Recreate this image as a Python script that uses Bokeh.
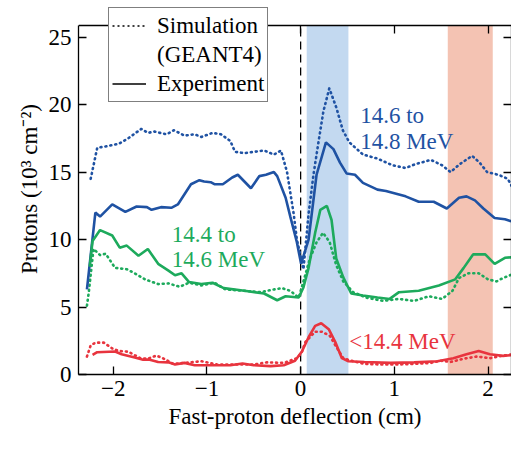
from bokeh.plotting import figure
from bokeh.models import (Legend, LegendItem, LinearAxis, SingleIntervalTicker,
                          BoxAnnotation, Label)
from bokeh.embed import file_html
from bokeh.resources import INLINE

# ---------------- data ----------------
blue_sim_x = [-2.24, -2.17, -2.08, -1.94, -1.84, -1.70, -1.63, -1.56, -1.43, -1.35,
              -1.24, -1.13, -1.06, -0.94, -0.85, -0.75, -0.70, -0.60, -0.39, -0.285,
              -0.21, -0.145, -0.074, -0.04, 0.03, 0.085, 0.137, 0.19, 0.243, 0.306,
              0.38, 0.45, 0.52, 0.665, 0.82, 0.98, 1.12, 1.23, 1.39, 1.51,
              1.60, 1.70, 1.83, 1.91, 1.99, 2.11, 2.21, 2.28, 2.34, 2.37]
blue_sim_y = [14.5, 16.8, 16.9, 17.1, 17.5, 18.2, 17.9, 18.0, 17.8, 18.1,
              17.7, 17.8, 17.6, 17.9, 17.8, 17.3, 16.5, 16.4, 16.6, 16.3,
              16.6, 15.0, 11.9, 10.0, 7.8, 11.9, 14.8, 17.2, 19.5, 21.2,
              19.8, 18.1, 17.2, 16.3, 16.0, 15.5, 15.3, 15.6, 15.9, 15.5,
              15.0, 15.6, 16.2, 15.7, 15.0, 14.8, 14.5, 13.6, 12.2, 11.8]

blue_exp_x = [-2.28, -2.19, -2.14, -2.01, -1.87, -1.75, -1.64, -1.59, -1.49, -1.38,
              -1.31, -1.17, -1.08, -1.03, -0.96, -0.92, -0.83, -0.73, -0.67, -0.53,
              -0.44, -0.37, -0.285, -0.25, -0.16, -0.11, -0.04, 0.005, 0.085, 0.17,
              0.27, 0.35, 0.42, 0.49, 0.58, 0.665, 0.82, 0.91, 1.12, 1.26,
              1.42, 1.56, 1.69, 1.77, 1.86, 1.95, 2.07, 2.18, 2.27, 2.30,
              2.32, 2.37]
blue_exp_y = [6.3, 12.0, 11.7, 12.6, 12.05, 12.45, 12.4, 12.2, 12.4, 12.35,
              12.6, 14.1, 14.4, 14.3, 14.25, 14.1, 14.1, 14.6, 14.8, 13.8,
              14.7, 14.8, 15.0, 14.7, 13.1, 11.7, 9.8, 8.2, 10.0, 14.8,
              17.2, 16.7, 15.7, 14.9, 14.8, 14.2, 13.7, 13.6, 13.2, 12.8,
              12.8, 12.3, 13.1, 13.2, 12.9, 12.3, 11.6, 11.5, 11.3, 10.5,
              7.6, 4.3]

green_exp_x = [-2.25, -2.22, -2.14, -2.01, -1.93, -1.855, -1.73, -1.63, -1.52, -1.41,
               -1.34, -1.27, -1.19, -1.06, -0.94, -0.82, -0.60, -0.39, -0.25, -0.16,
               -0.02, 0.03, 0.085, 0.155, 0.21, 0.28, 0.33, 0.38, 0.455, 0.54,
               0.665, 0.82, 0.95, 1.05, 1.26, 1.475, 1.65, 1.74, 1.84, 1.97,
               2.07, 2.18, 2.28, 2.32, 2.37]
green_exp_y = [8.0, 9.9, 10.7, 10.3, 9.4, 9.55, 8.8, 9.3, 8.2, 7.7,
               7.35, 7.5, 6.85, 6.7, 6.8, 6.4, 6.2, 6.0, 5.5, 5.8,
               5.7, 6.45, 7.9, 10.5, 12.2, 12.5, 11.45, 8.6, 7.2, 6.0,
               5.85, 5.7, 5.6, 6.1, 6.2, 6.6, 7.05, 7.9, 8.9, 8.9,
               8.2, 8.65, 8.7, 8.4, 7.5]

green_sim_x = [-2.28, -2.26, -2.21, -2.14, -2.08, -1.98, -1.855, -1.77, -1.66, -1.52,
               -1.41, -1.29, -1.19, -1.06, -0.92, -0.80, -0.60, -0.43, -0.285, -0.20,
               -0.11, -0.02, 0.03, 0.10, 0.17, 0.24, 0.31, 0.38, 0.455, 0.56,
               0.70, 0.88, 1.05, 1.21, 1.37, 1.51, 1.62, 1.69, 1.79, 1.90,
               2.00, 2.09, 2.16, 2.27, 2.30, 2.34, 2.37]
green_sim_y = [5.1, 6.1, 9.3, 8.85, 8.95, 7.9, 7.8, 7.5, 7.05, 6.7,
               6.75, 6.5, 6.8, 6.6, 6.8, 6.3, 6.2, 6.1, 6.3, 6.4,
               6.2, 5.7, 6.9, 8.6, 9.8, 10.5, 9.8, 8.1, 6.9, 6.1,
               5.7, 5.45, 5.6, 5.45, 5.8, 5.6, 6.2, 7.15, 7.5, 7.5,
               7.05, 6.9, 7.15, 7.45, 6.7, 4.3, 2.9]

red_exp_x = [-2.22, -2.17, -1.98, -1.91, -1.77, -1.68, -1.61, -1.52, -1.41, -1.34,
             -1.24, -1.13, -0.96, -0.75, -0.62, -0.50, -0.32, -0.18, -0.06, 0.014,
             0.085, 0.155, 0.22, 0.30, 0.37, 0.44, 0.51, 0.68, 0.96, 1.21,
             1.46, 1.63, 1.77, 1.90, 2.02, 2.16, 2.27, 2.37]
red_exp_y = [1.45, 1.65, 1.7, 1.5, 1.26, 1.1, 1.1, 0.93, 0.9, 0.74,
             0.86, 0.69, 0.69, 0.69, 0.81, 0.69, 0.62, 0.69, 1.02, 1.7,
             2.76, 3.6, 3.8, 3.36, 2.4, 1.21, 0.98, 0.93, 0.86, 0.9,
             0.98, 1.21, 1.5, 1.74, 1.5, 1.38, 1.45, 1.1]

red_sim_x = [-2.28, -2.24, -2.19, -2.10, -2.01, -1.94, -1.84, -1.71, -1.63, -1.54,
             -1.47, -1.36, -1.24, -1.06, -0.89, -0.71, -0.50, -0.36, -0.18, -0.04,
             0.01, 0.05, 0.155, 0.225, 0.31, 0.38, 0.455, 0.54, 0.68, 0.86,
             1.03, 1.21, 1.39, 1.49, 1.60, 1.74, 1.88, 2.02, 2.16, 2.27,
             2.34]
red_sim_y = [1.33, 2.16, 2.36, 2.36, 1.93, 1.74, 1.69, 1.21, 1.17, 1.4,
             1.21, 0.79, 0.86, 0.98, 0.74, 0.74, 0.74, 0.9, 0.86, 1.21,
             1.6, 2.4, 3.17, 3.17, 2.88, 2.05, 1.21, 1.02, 0.79, 0.74,
             0.74, 0.79, 0.86, 1.02, 0.93, 1.17, 1.33, 1.21, 1.4, 1.5,
             1.26]

band_blue = (0.065, 0.51)
band_red = (1.57, 2.05)
x_tick_labels = {-2: "\u22122", -1: "\u22121", 0: "0", 1: "1", 2: "2"}
Y_TOP = 25.86          # top of the drawn axes box
ZERO_X = 0.0           # dashed reference line
NAN = float("nan")     # legend-only samples draw nothing in the plot

# ---------------- styling ----------------
FONT = "Liberation Serif"
BLUE = "#1f52a3"
GREEN = "#1daa5c"
RED = "#e8343e"
LW = 2.6
DOT = "1 4"

# frame runs from y=3 (room for the legend) to y=374 px; the axes box stops at Y_TOP
p = figure(width=511, height=436, x_range=(-2.37, 2.25), y_range=(0, 27.49),
           output_backend="svg", toolbar_location=None,
           min_border_left=78, min_border_right=0, min_border_top=3,
           min_border_bottom=62)
p.background_fill_color = "white"
p.border_fill_color = "white"
p.grid.visible = False
p.outline_line_color = None

# bands and zero line
p.add_layout(BoxAnnotation(left=band_blue[0], right=band_blue[1], bottom=0, top=Y_TOP,
                           fill_color="#c3d9f0", fill_alpha=1.0, line_color=None,
                           level="underlay"))
p.add_layout(BoxAnnotation(left=band_red[0], right=band_red[1], bottom=0, top=Y_TOP,
                           fill_color="#f4c3b3", fill_alpha=1.0, line_color=None,
                           level="underlay"))
p.segment(x0=[ZERO_X], y0=[0], x1=[ZERO_X], y1=[Y_TOP], line_color="black",
          line_width=1.3, line_dash="8 5")

# curves
p.line(blue_sim_x, blue_sim_y, line_color=BLUE, line_width=LW, line_dash=DOT, line_cap="round")
p.line(green_sim_x, green_sim_y, line_color=GREEN, line_width=LW, line_dash=DOT, line_cap="round")
p.line(red_sim_x, red_sim_y, line_color=RED, line_width=LW, line_dash=DOT, line_cap="round")
p.line(blue_exp_x, blue_exp_y, line_color=BLUE, line_width=LW)
p.line(green_exp_x, green_exp_y, line_color=GREEN, line_width=LW)
p.line(red_exp_x, red_exp_y, line_color=RED, line_width=LW)

# axes
def style_axis(ax, show_labels=True):
    ax.axis_line_color = "black"
    ax.axis_line_width = 1.3
    ax.major_tick_in = 8
    ax.major_tick_out = 0
    ax.major_tick_line_width = 1.3
    ax.major_tick_line_color = "black"
    ax.minor_tick_line_color = None
    if show_labels:
        ax.major_label_text_font = FONT
        ax.major_label_text_font_size = "23px"
        ax.major_label_text_color = "black"
        ax.axis_label_text_font = FONT
        ax.axis_label_text_font_size = "23px"
        ax.axis_label_text_font_style = "normal"
        ax.axis_label_text_color = "black"
    else:
        ax.major_label_text_font_size = "1px"
        ax.major_label_text_color = None
        ax.major_label_standoff = 0

p.xaxis.ticker = SingleIntervalTicker(interval=1, num_minor_ticks=0)
p.yaxis.ticker = SingleIntervalTicker(interval=5, num_minor_ticks=0)
p.yaxis.bounds = (0, Y_TOP)
p.xaxis.major_label_overrides = x_tick_labels
p.xaxis.axis_label = "Fast-proton deflection (cm)"
p.yaxis.axis_label = "Protons (10\u00b3 cm\u207b\u00b2)"
style_axis(p.xaxis[0])
style_axis(p.yaxis[0])
p.xaxis.major_label_standoff = 6
p.yaxis.major_label_standoff = 7
p.xaxis.axis_label_standoff = 5
p.yaxis.axis_label_standoff = 4

top_ax = LinearAxis(ticker=SingleIntervalTicker(interval=1, num_minor_ticks=0),
                    fixed_location=Y_TOP)
right_ax = LinearAxis(ticker=SingleIntervalTicker(interval=5, num_minor_ticks=0),
                      bounds=(0, Y_TOP))
style_axis(top_ax, False)
style_axis(right_ax, False)
p.add_layout(top_ax, "above")
p.add_layout(right_ax, "right")

# labels
def add_label(x, y, text, color):
    p.add_layout(Label(x=x, y=y, text=text, text_color=color, text_font=FONT,
                       text_font_size="23px", text_baseline="alphabetic"))

add_label(0.635, 19.2, "14.6 to", BLUE)
add_label(0.635, 17.3, "14.8 MeV", BLUE)
add_label(-1.375, 10.36, "14.4 to", GREEN)
add_label(-1.375, 8.5, "14.6 MeV", GREEN)
add_label(0.52, 2.43, "<14.4 MeV", RED)

# legend (black keys, as in the original figure)
r_sim = p.line([NAN], [NAN], line_color="black", line_width=1.6, line_dash="2 3")
r_blank = p.line([NAN], [NAN], line_color="black", line_alpha=0)
r_exp = p.line([NAN], [NAN], line_color="black", line_width=1.6)
legend = Legend(items=[LegendItem(label="Simulation", renderers=[r_sim], index=0),
                       LegendItem(label="(GEANT4)", renderers=[r_blank], index=0),
                       LegendItem(label="Experiment", renderers=[r_exp], index=0)],
                location=(30, 272), padding=3, spacing=0, margin=0,
                glyph_width=34, glyph_height=29, label_height=29,
                label_standoff=11,
                label_text_font=FONT, label_text_font_size="23px",
                label_text_color="black",
                border_line_color="black", border_line_width=1.3,
                background_fill_color="white", background_fill_alpha=1.0)
p.add_layout(legend, "center")

open("out.html", "w").write(file_html(p, INLINE))
